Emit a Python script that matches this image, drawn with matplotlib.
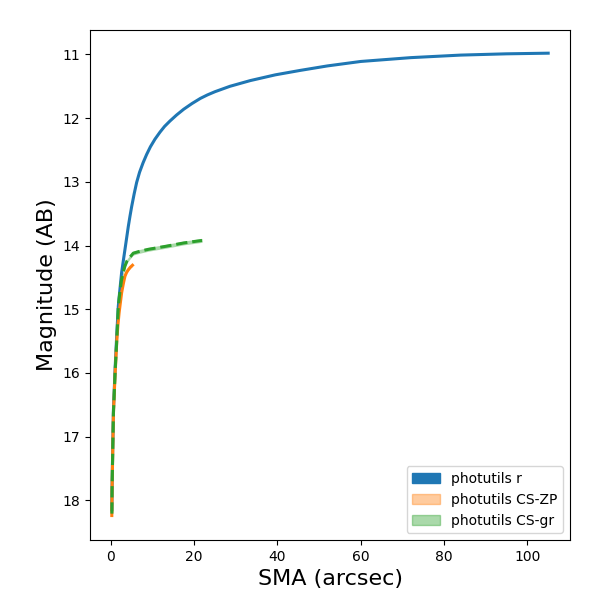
import matplotlib
matplotlib.use("Agg")
import matplotlib.pyplot as plt
import matplotlib.patches as mpatches
import numpy as np

# photutils r
r_sma = [0.25, 0.3, 0.48, 0.63, 1.03, 1.44, 1.8, 2.2, 2.6, 3.0, 3.4, 3.8, 4.2, 4.6,
         5.0, 5.6, 6.2, 6.9, 7.75, 8.6, 9.5, 10.6, 11.8, 12.9, 14.2, 15.8, 17.5,
         19.5, 21.5, 23.2, 25.0, 28.6, 33.5, 39.5, 45.5, 52.0, 60.0, 72.0, 84.0,
         95.0, 105.0]
r_mag = [18.15, 17.8, 17.1, 16.58, 15.93, 15.38, 14.95, 14.68, 14.42, 14.24, 14.06,
         13.88, 13.70, 13.54, 13.39, 13.19, 13.01, 12.85, 12.70, 12.57, 12.45, 12.33,
         12.22, 12.13, 12.045, 11.95, 11.86, 11.77, 11.69, 11.635, 11.585, 11.50,
         11.41, 11.32, 11.25, 11.18, 11.11, 11.05, 11.01, 10.99, 10.98]

# photutils CS-ZP
zp_sma = [0.24, 0.3, 0.48, 0.63, 1.03, 1.44, 1.7, 2.0, 2.6, 3.0, 3.4, 3.8, 4.2, 4.7, 5.2]
zp_mag = [18.24, 17.85, 17.16, 16.64, 16.01, 15.49, 15.25, 15.05, 14.74, 14.60, 14.48,
          14.42, 14.38, 14.34, 14.31]
zp_err = [0.02, 0.02, 0.02, 0.02, 0.02, 0.02, 0.02, 0.02, 0.02, 0.02, 0.02,
          0.02, 0.02, 0.02, 0.02]

# photutils CS-gr
gr_sma = [0.26, 0.3, 0.48, 0.63, 1.03, 1.44, 1.8, 2.2, 2.6, 3.0, 3.4, 3.9, 4.5, 5.4,
          7.0, 9.0, 13.4, 17.5, 21.9]
gr_mag = [18.21, 17.83, 17.14, 16.62, 15.99, 15.47, 14.95, 14.72, 14.53, 14.42, 14.32,
          14.24, 14.19, 14.12, 14.09, 14.06, 14.01, 13.96, 13.92]
gr_err = [0.03, 0.03, 0.03, 0.03, 0.03, 0.03, 0.03, 0.03, 0.03, 0.03, 0.03,
          0.03, 0.03, 0.03, 0.03, 0.03, 0.03, 0.03, 0.03]

labels = ["photutils r", "photutils CS-ZP", "photutils CS-gr"]

fig, ax = plt.subplots(figsize=(6, 6), dpi=100)
fig.subplots_adjust(left=0.15, right=0.95, top=0.95, bottom=0.10)

ax.plot(r_sma, r_mag, color="#1f77b4", lw=2.2)

zm = np.array(zp_mag); ze = np.array(zp_err)
ax.fill_between(zp_sma, zm - ze, zm + ze, color="#ff7f0e", alpha=0.4, lw=0)
ax.plot(zp_sma, zp_mag, color="#ff7f0e", lw=2.2)

gm = np.array(gr_mag); ge = np.array(gr_err)
ax.fill_between(gr_sma, gm - ge, gm + ge, color="#2ca02c", alpha=0.4, lw=0)
ax.plot(gr_sma, gr_mag, color="#2ca02c", lw=2.2, ls="--")

ax.invert_yaxis()
ax.set_xlabel("SMA (arcsec)", fontsize=16)
ax.set_ylabel("Magnitude (AB)", fontsize=16)

handles = [mpatches.Patch(color="#1f77b4", label=labels[0]),
           mpatches.Patch(color="#ff7f0e", alpha=0.4, label=labels[1]),
           mpatches.Patch(color="#2ca02c", alpha=0.4, label=labels[2])]
ax.legend(handles=handles, loc="lower right")

fig.savefig("out.png", dpi=100)
